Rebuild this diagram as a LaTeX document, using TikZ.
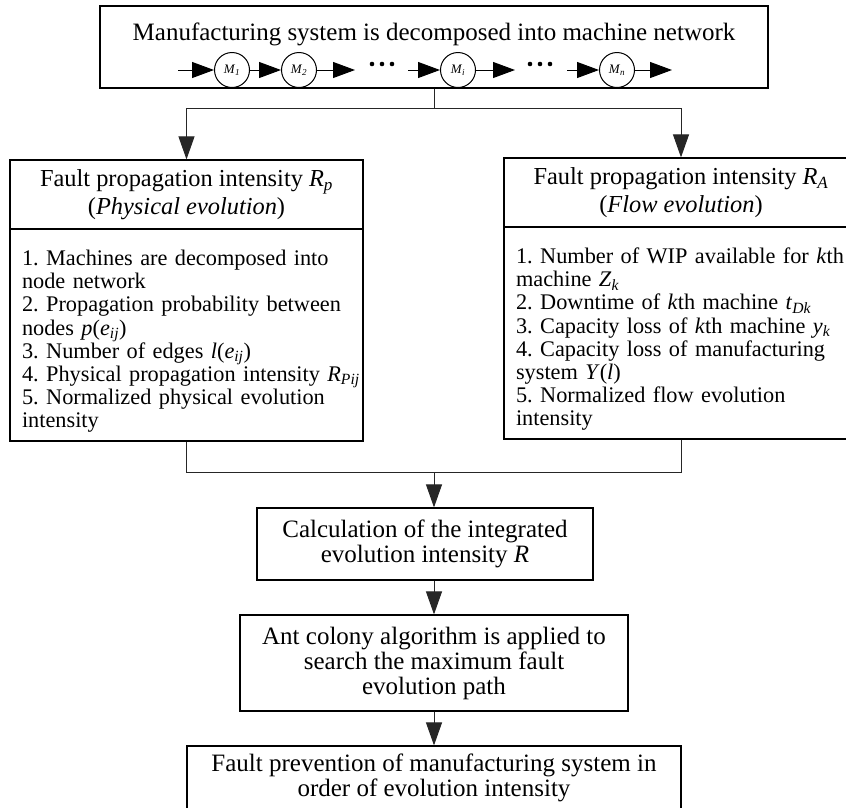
\documentclass[tikz,border=0pt]{standalone}
\usepackage{fontspec}
\setmainfont{Liberation Serif}
\usetikzlibrary{arrows.meta}
\newcommand\vsub[2]{\textit{#1}\textsubscript{\textit{#2}}}
\newcommand\bline[1]{\mbox{#1}}
\begin{document}
\frenchspacing
\begin{tikzpicture}[x=1pt,y=1pt,
  box/.style={draw, line width=1.2pt, inner sep=0pt},
  bigtext/.style={font=\fontsize{25}{25}\selectfont, align=center},
  headtext/.style={font=\fontsize{24.4}{28}\selectfont, align=center},
  bodytext/.style={font=\fontsize{22.3}{23.1}\selectfont, align=left, inner xsep=12pt},
  mach/.style={circle, draw, line width=1pt, minimum size=35pt, inner sep=0pt, font=\fontsize{13}{13}\selectfont},
  conn/.style={draw=black!85, line width=1pt},
  arr/.style={-{Triangle[length=23pt,width=16pt]}},
  chain/.style={line width=1pt, -{Triangle[length=22pt,width=16pt]}}
]
\useasboundingbox (0,0) rectangle (846,-807);

% top box
\node[box, minimum width=668pt, minimum height=82pt] (top) at (434,-47) {};
\node[bigtext, anchor=base, inner sep=0pt] (title) at (434,-40) {Manufacturing system is decomposed into machine network};
\node[mach] (m1) at (232,-70) {\vsub{M}{1}};
\node[mach] (m2) at (299,-70) {\vsub{M}{2}};
\node[mach] (mi) at (458,-70) {\vsub{M}{i}};
\node[mach] (mn) at (617,-70) {\vsub{M}{n}};
\coordinate (c0) at (178,-70);
\coordinate (c1) at (355,-70);
\coordinate (c2) at (408,-70);
\coordinate (c3) at (515,-70);
\coordinate (c4) at (567,-70);
\coordinate (c5) at (672,-70);
\draw[chain] (c0) -- (m1);
\draw[chain] (m1) -- (m2);
\draw[chain] (m2) -- (c1);
\draw[chain] (c2) -- (mi);
\draw[chain] (mi) -- (c3);
\draw[chain] (c4) -- (mn);
\draw[chain] (mn) -- (c5);
\foreach \x in {372,382,392,530,540,550} \fill (\x,-64) circle (2.3);

% left branch
\node[box, headtext, minimum width=353pt, minimum height=69pt] (lh) at (186.5,-194.5)
  {Fault propagation intensity \vsub{R}{p}\\(\textit{Physical evolution})};
\node[box, bodytext, text width=329pt, minimum width=353pt, minimum height=212pt] (lb) at (186.5,-335)
  {\bline{\rule{0pt}{28pt}1. Machines are decomposed into}\\
   \bline{node network}\\
   \bline{2. Propagation probability between}\\
   \bline{nodes \textit{p}(\vsub{e}{ij})}\\
   \bline{3. Number of edges \textit{l}(\vsub{e}{ij})}\\
   \bline{4. Physical propagation intensity \vsub{R}{Pij}}\\
   \bline{5. Normalized physical evolution}\\
   \bline{intensity}};

% right branch
\node[box, headtext, minimum width=354pt, minimum height=69pt] (rh) at (681,-192.5)
  {Fault propagation intensity \vsub{R}{A}\\(\textit{Flow evolution})};
\node[box, bodytext, text width=330pt, minimum width=354pt, minimum height=212pt] (rb) at (681,-333)
  {\bline{\rule{0pt}{28pt}1. Number of WIP available for \textit{k}th}\\
   \bline{machine \vsub{Z}{k}}\\
   \bline{2. Downtime of \textit{k}th machine \vsub{t}{Dk}}\\
   \bline{3. Capacity loss of \textit{k}th machine \vsub{y}{k}}\\
   \bline{4. Capacity loss of manufacturing}\\
   \bline{system \textit{Y}(\textit{l})}\\
   \bline{5. Normalized flow evolution}\\
   \bline{intensity}};

% lower chain
\node[box, bigtext, minimum width=336pt, minimum height=72pt] (calc) at (425,-544)
  {Calculation of the integrated\\evolution intensity \textit{R}};
\node[box, bigtext, minimum width=388pt, minimum height=96pt] (ant) at (434,-663)
  {Ant colony algorithm is applied to\\search the maximum fault\\evolution path};
\node[box, bigtext, minimum width=494pt, minimum height=64pt] (bot) at (434,-778)
  {Fault prevention of manufacturing system in\\order of evolution intensity};

% connectors
\coordinate (j1) at (434,-108);
\coordinate (j2) at (434,-472);
\draw[conn] (top.south) -- (j1);
\draw[conn, arr] (j1) -| (lh.north);
\draw[conn, arr] (j1) -| (rh.north);
\draw[conn] (lb.south) |- (j2);
\draw[conn] (rb.south) |- (j2);
\draw[conn, arr] (j2) -- (j2 |- calc.north);
\draw[conn, arr] (calc.south -| j2) -- (ant.north);
\draw[conn, arr] (ant.south) -- (bot.north);
\end{tikzpicture}
\end{document}
